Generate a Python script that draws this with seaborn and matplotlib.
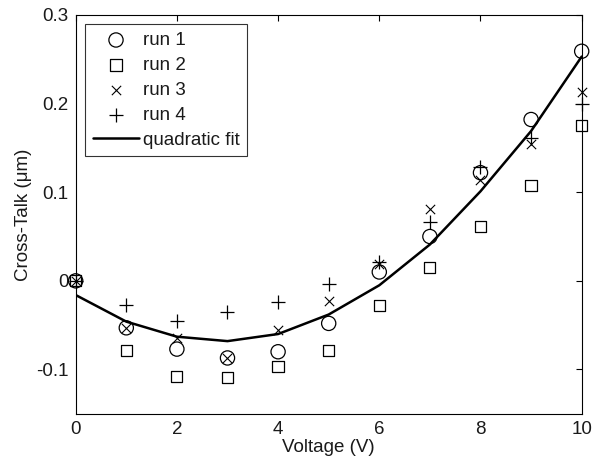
import matplotlib
matplotlib.use("Agg")
import matplotlib.pyplot as plt
import seaborn as sns
import numpy as np
import pandas as pd

voltage = [0, 1, 2, 3, 4, 5, 6, 7, 8, 9, 10]
run1 = [0.0, -0.053, -0.077, -0.087, -0.080, -0.048, 0.010, 0.050, 0.122, 0.182, 0.259]
run2 = [0.0, -0.079, -0.108, -0.109, -0.097, -0.079, -0.028, 0.015, 0.061, 0.108, 0.175]
run3 = [0.0, -0.053, -0.064, -0.087, -0.055, -0.023, 0.019, 0.081, 0.114, 0.154, 0.213]
run4 = [0.0, -0.027, -0.045, -0.035, -0.024, -0.003, 0.021, 0.066, 0.128, 0.161, 0.199]
fit = [-0.016, -0.046, -0.063, -0.068, -0.060, -0.038, -0.005, 0.041, 0.101, 0.169, 0.253]

x_ticks = [0, 2, 4, 6, 8, 10]
y_ticks = [-0.1, 0, 0.1, 0.2, 0.3]
y_ticklabels = ["-0.1", "0", "0.1", "0.2", "0.3"]

sns.set_style("white")
plt.rcParams['font.family'] = ['Liberation Sans', 'DejaVu Sans']

FS = 13.5
TXT = "#1a1a1a"

fig = plt.figure(figsize=(5.96, 4.66), dpi=100)
ax = fig.add_axes([0.127, 0.112, 0.849, 0.856])

df = pd.DataFrame({"v": voltage, "r1": run1, "r2": run2, "r3": run3, "r4": run4, "fit": fit})

sns.scatterplot(data=df, x="v", y="r1", marker="o", s=105, facecolors="none",
                edgecolor="black", linewidth=0.9, ax=ax, label="run 1", clip_on=False, zorder=3)
sns.scatterplot(data=df, x="v", y="r2", marker="s", s=65, facecolors="none",
                edgecolor="black", linewidth=0.9, ax=ax, label="run 2", clip_on=False, zorder=3)
sns.scatterplot(data=df, x="v", y="r3", marker="x", s=45, color="black",
                linewidth=0.8, ax=ax, label="run 3", clip_on=False, zorder=3)
sns.scatterplot(data=df, x="v", y="r4", marker="+", s=100, color="black",
                linewidth=0.9, ax=ax, label="run 4", clip_on=False, zorder=3)
sns.lineplot(data=df, x="v", y="fit", color="black", linewidth=1.8, ax=ax,
             label="quadratic fit", zorder=2)

ax.set_xlim(0, 10)
ax.set_ylim(-0.15, 0.3)
ax.set_xticks(x_ticks)
ax.set_xticklabels([str(t) for t in x_ticks])
ax.set_yticks(y_ticks)
ax.set_yticklabels(y_ticklabels)
ax.tick_params(direction="in", length=4, width=0.8, top=True, right=True,
               labelsize=FS, colors="black", labelcolor=TXT, pad=5)
for sp in ax.spines.values():
    sp.set_visible(True)
    sp.set_color("black")
    sp.set_linewidth(0.8)

ax.set_xlabel("Voltage (V)", fontsize=FS, labelpad=1, color=TXT)
ax.set_ylabel("Cross-Talk (\u03bcm)", fontsize=FS, labelpad=3, color=TXT)

leg = ax.legend(loc="upper left", frameon=True,
                fancybox=False, edgecolor="black", fontsize=FS,
                handlelength=2.5, handletextpad=0.2, borderpad=0.4,
                labelspacing=0.42, borderaxespad=0.5, labelcolor=TXT)
leg.get_frame().set_linewidth(0.8)

fig.savefig("out.png", dpi=100)
